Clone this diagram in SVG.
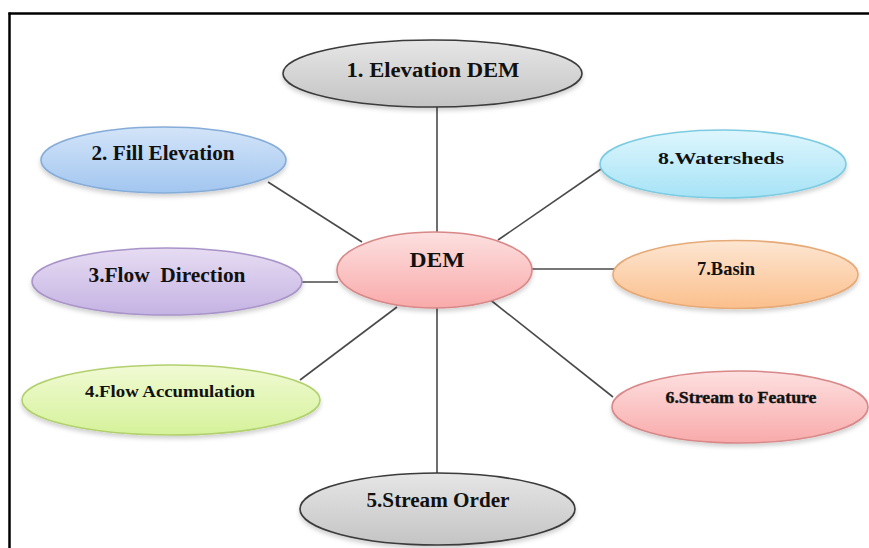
<svg xmlns="http://www.w3.org/2000/svg" width="869" height="548" viewBox="0 0 869 548">
<style>
text{font-family:'Liberation Serif','DejaVu Serif',serif;font-weight:bold;fill:#111;text-anchor:middle}
.c line{stroke:#4a4a4a;stroke-width:1.6}
.n ellipse{stroke-width:1.6}
</style>
<defs>
<filter id="sh" x="-10%" y="-20%" width="120%" height="150%">
<feDropShadow dx="0" dy="3" stdDeviation="2" flood-color="#000" flood-opacity="0.18"/>
</filter>
<linearGradient id="gGray" x1="0" y1="0" x2="0" y2="1"><stop offset="0" stop-color="#e6e6e6"/><stop offset="1" stop-color="#c4c4c4"/></linearGradient>
<linearGradient id="gBlue" x1="0" y1="0" x2="0" y2="1"><stop offset="0" stop-color="#d3e4f8"/><stop offset="1" stop-color="#a2c6f0"/></linearGradient>
<linearGradient id="gLav" x1="0" y1="0" x2="0" y2="1"><stop offset="0" stop-color="#e6dcf2"/><stop offset="1" stop-color="#c5b3e3"/></linearGradient>
<linearGradient id="gGreen" x1="0" y1="0" x2="0" y2="1"><stop offset="0" stop-color="#f1fad4"/><stop offset="1" stop-color="#d5f29a"/></linearGradient>
<linearGradient id="gPink" x1="0" y1="0" x2="0" y2="1"><stop offset="0" stop-color="#fde0e0"/><stop offset="1" stop-color="#f9aaaa"/></linearGradient>
<linearGradient id="gPeach" x1="0" y1="0" x2="0" y2="1"><stop offset="0" stop-color="#fde6d2"/><stop offset="1" stop-color="#fbbf8c"/></linearGradient>
<linearGradient id="gCyan" x1="0" y1="0" x2="0" y2="1"><stop offset="0" stop-color="#def6fd"/><stop offset="1" stop-color="#a6e3f6"/></linearGradient>
</defs>
<rect width="869" height="548" fill="#fff"/>
<g id="frame" stroke="#000" stroke-width="2.5" fill="none">
<line x1="8.5" y1="13.5" x2="869" y2="13.5"/>
<line x1="9.5" y1="12.5" x2="9.5" y2="548"/>
</g>
<g id="connectors" class="c">
<line x1="437" y1="106" x2="437" y2="233"/>
<line x1="268" y1="182" x2="362" y2="242"/>
<line x1="302" y1="282" x2="338" y2="282"/>
<line x1="300" y1="380" x2="397" y2="307"/>
<line x1="437" y1="307" x2="437" y2="474"/>
<line x1="488" y1="298" x2="613" y2="397"/>
<line x1="531" y1="269" x2="614" y2="269"/>
<line x1="498" y1="240" x2="601" y2="169"/>
</g>
<g id="n1" class="n"><ellipse cx="432.5" cy="73.5" rx="149.5" ry="33.5" fill="url(#gGray)" stroke="#3a3a3a" filter="url(#sh)"/><text font-family="Liberation Serif, serif" x="433" y="77" font-size="20" textLength="173" lengthAdjust="spacingAndGlyphs">1. Elevation DEM</text></g>
<g id="n2" class="n"><ellipse cx="163.5" cy="160" rx="122.5" ry="33" fill="url(#gBlue)" stroke="#86acd8" filter="url(#sh)"/><text font-family="Liberation Serif, serif" x="163" y="160" font-size="20" textLength="143" lengthAdjust="spacingAndGlyphs">2. Fill Elevation</text></g>
<g id="n3" class="n"><ellipse cx="167" cy="281.5" rx="135" ry="33.5" fill="url(#gLav)" stroke="#a894c8" filter="url(#sh)"/><text font-family="Liberation Serif, serif" x="167" y="282" font-size="20" textLength="157" lengthAdjust="spacingAndGlyphs" xml:space="preserve">3.Flow  Direction</text></g>
<g id="n4" class="n"><ellipse cx="171" cy="400" rx="149" ry="35" fill="url(#gGreen)" stroke="#b2d06e" filter="url(#sh)"/><text font-family="Liberation Serif, serif" x="170" y="397" font-size="17" textLength="170" lengthAdjust="spacingAndGlyphs">4.Flow Accumulation</text></g>
<g id="n5" class="n"><ellipse cx="437.5" cy="509" rx="137.5" ry="36" fill="url(#gGray)" stroke="#3a3a3a" filter="url(#sh)"/><text font-family="Liberation Serif, serif" x="438" y="507" font-size="20" textLength="143" lengthAdjust="spacingAndGlyphs">5.Stream Order</text></g>
<g id="n6" class="n"><ellipse cx="740" cy="407" rx="128" ry="36" fill="url(#gPink)" stroke="#d88888" filter="url(#sh)"/><text font-family="Liberation Serif, serif" x="741" y="403" font-size="16" font-weight="normal" stroke="#111" stroke-width="0.35" textLength="151" lengthAdjust="spacingAndGlyphs">6.Stream to Feature</text></g>
<g id="n7" class="n"><ellipse cx="735.5" cy="274.5" rx="122.5" ry="34" fill="url(#gPeach)" stroke="#e6aa78" filter="url(#sh)"/><text font-family="Liberation Serif, serif" x="726" y="275" font-size="19" textLength="58" lengthAdjust="spacingAndGlyphs">7.Basin</text></g>
<g id="n8" class="n"><ellipse cx="723" cy="164" rx="123" ry="34" fill="url(#gCyan)" stroke="#7ccbe2" filter="url(#sh)"/><text font-family="Liberation Serif, serif" x="721" y="164" font-size="17" textLength="126" lengthAdjust="spacingAndGlyphs">8.Watersheds</text></g>
<g id="dem" class="n"><ellipse cx="434.5" cy="270" rx="97.5" ry="38" fill="url(#gPink)" stroke="#d88888" filter="url(#sh)"/><text font-family="Liberation Serif, serif" x="437" y="267" font-size="22" textLength="55" lengthAdjust="spacingAndGlyphs">DEM</text></g>
</svg>
